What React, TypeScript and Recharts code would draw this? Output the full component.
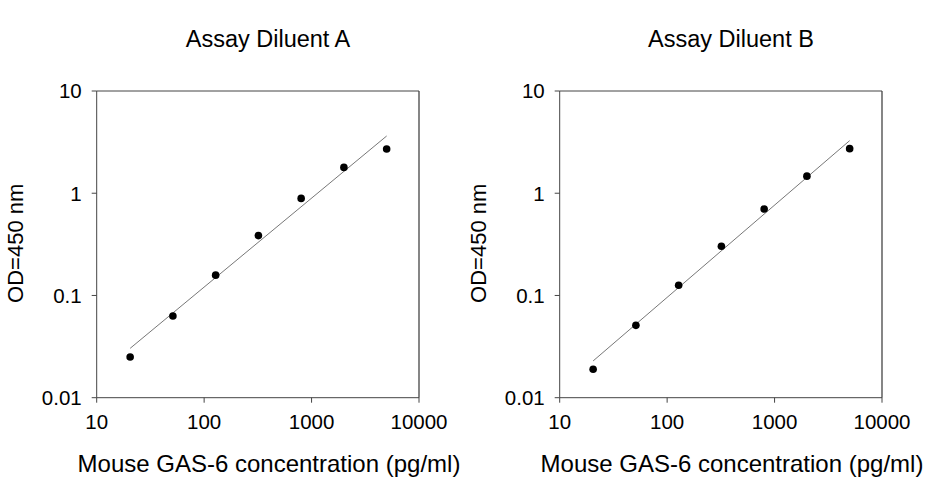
import { ScatterChart, Scatter, XAxis, YAxis, ReferenceLine } from 'recharts';

// standard curve, 2.5-fold dilutions
const concentrations = [20.48, 51.2, 128, 320, 800, 2000, 5000];
const odA = [0.025, 0.063, 0.158, 0.385, 0.89, 1.79, 2.71];
const odB = [0.019, 0.051, 0.126, 0.303, 0.70, 1.47, 2.73];

// fitted line end points
const fitX = [20.48, 5000];
const fitA = [0.0304, 3.63];
const fitB = [0.0229, 3.27];

const xTicks = [10, 100, 1000, 10000];
const yTicks = [0.01, 0.1, 1, 10];

const FONT = '"Liberation Sans", Arial, sans-serif';
const AXIS = '#444';

const noShape = () => <g />;

interface PanelProps { title: string; od: number[]; fit: number[]; left: number; }

function Panel({ title, od, fit, left }: PanelProps) {
  const points = concentrations.map((x, i) => ({ x, y: od[i] }));
  const line = fitX.map((x, i) => ({ x, y: fit[i] }));
  const tick = { fill: '#000', fontSize: 20.5, fontFamily: FONT };

  return (
    <div style={{ position: 'absolute', left, top: 0, width: 463, height: 480 }}>
      <ScatterChart width={463} height={480} margin={{ top: 91, right: 44, bottom: 42.3, left: 0 }}>
        <XAxis
          dataKey="x" type="number" scale="log" domain={[10, 10000]} ticks={xTicks}
          allowDataOverflow height={40} tick={tick} tickSize={5} tickMargin={12}
          stroke={AXIS}
        />
        <YAxis
          dataKey="y" type="number" scale="log" domain={[0.01, 10]} ticks={yTicks}
          allowDataOverflow width={96.7} tick={tick} tickSize={5} tickMargin={10}
          stroke={AXIS}
        />
        <ReferenceLine x={10000} stroke={AXIS} strokeWidth={1.3} />
        <ReferenceLine y={10} stroke={AXIS} />
        <Scatter
          data={line} line={{ stroke: '#777', strokeWidth: 1 }} shape={noShape}
          isAnimationActive={false}
        />
        <Scatter data={points} fill="#000" isAnimationActive={false}
          shape={(p: any) => <circle cx={p.cx} cy={p.cy} r={3.8} fill="#000" />}
        />
      </ScatterChart>
      <svg width={463} height={480} style={{ position: 'absolute', left: 0, top: 0, pointerEvents: 'none' }}>
        <text x={268} y={46.7} textAnchor="middle" fontSize={23.5} fontFamily={FONT} fill="#000">{title}</text>
        <text x={269} y={471.7} textAnchor="middle" fontSize={24} fontFamily={FONT} fill="#000">
          Mouse GAS-6 concentration (pg/ml)
        </text>
        <text
          x={23.3} y={243.3} textAnchor="middle" fontSize={22} fontFamily={FONT} fill="#000"
          transform="rotate(-90, 23.3, 243.3)"
        >
          OD=450 nm
        </text>
      </svg>
    </div>
  );
}

export default function App() {
  return (
    <div style={{ position: 'absolute', left: 0, top: 0, width: 926, height: 480, background: '#fff' }}>
      <Panel title="Assay Diluent A" od={odA} fit={fitA} left={0} />
      <Panel title="Assay Diluent B" od={odB} fit={fitB} left={463} />
    </div>
  );
}
